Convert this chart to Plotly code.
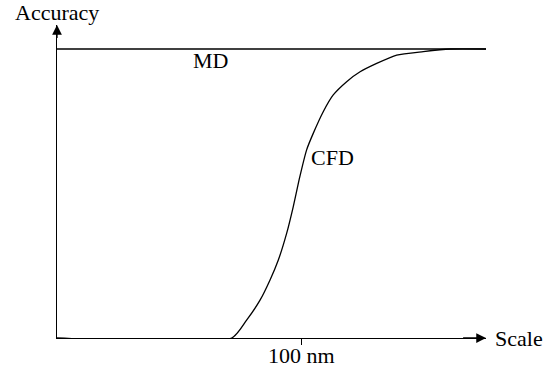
import plotly.graph_objects as go

# Data
md_x = [0, 175.8]
md_y = [1.0, 1.0]

cfd_x = [0, 71.6, 77.7, 83.2, 87.3, 90.7, 94.1, 96.8, 99.2, 102.3, 105.0, 109.1,
         113.2, 118.7, 124.2, 131.0, 139.2, 150.1, 161.1, 175.8]
cfd_y = [0, 0, 0.062, 0.131, 0.201, 0.270, 0.362, 0.454, 0.547, 0.651, 0.708, 0.783,
         0.841, 0.887, 0.921, 0.950, 0.979, 0.991, 1.0, 1.0]

tick_vals = [100]
tick_text = ["100 nm"]

x_max = 175.8
y_max = 1.083

FONT = "Liberation Serif, Times New Roman, serif"
FS = 22
fig = go.Figure()
fig.add_trace(go.Scatter(x=md_x, y=md_y, mode="lines",
                         line=dict(color="black", width=1.3), showlegend=False))
fig.add_trace(go.Scatter(x=cfd_x, y=cfd_y, mode="lines",
                         line=dict(color="black", width=1.3, shape="spline", smoothing=0.6),
                         showlegend=False))

# axis arrows
fig.add_annotation(x=x_max, y=0, ax=x_max - 10, ay=0, axref="x", ayref="y",
                   xref="x", yref="y", text="", showarrow=True, arrowhead=2,
                   arrowsize=1.5, arrowwidth=1.3, arrowcolor="black")
fig.add_annotation(x=0, y=y_max, ax=0, ay=y_max - 0.05, axref="x", ayref="y",
                   xref="x", yref="y", text="", showarrow=True, arrowhead=2,
                   arrowsize=1.5, arrowwidth=1.3, arrowcolor="black")

# tick labels
for tv, tt in zip(tick_vals, tick_text):
    fig.add_annotation(x=tv, y=0, xref="x", yref="y", text=tt, showarrow=False,
                       xanchor="center", yanchor="middle", yshift=-17,
                       font=dict(family=FONT, size=FS, color="black"))

# labels
fig.add_annotation(x=x_max, y=0, xref="x", yref="y", text="Scale", showarrow=False,
                   xanchor="left", yanchor="middle", xshift=7,
                   font=dict(family=FONT, size=FS, color="black"))
fig.add_annotation(x=0, y=1, xref="x", yref="paper", text="Accuracy", showarrow=False,
                   xanchor="center", yanchor="bottom", yshift=-2,
                   font=dict(family=FONT, size=FS, color="black"))
fig.add_annotation(x=63.1, y=0.961, xref="x", yref="y", text="MD", showarrow=False,
                   xanchor="center", yanchor="middle",
                   font=dict(family=FONT, size=FS, color="black"))
fig.add_annotation(x=103.3, y=0.626, xref="x", yref="y", text="CFD", showarrow=False,
                   xanchor="left", yanchor="middle",
                   font=dict(family=FONT, size=FS, color="black"))

fig.update_layout(
    width=543, height=371,
    margin=dict(l=57, r=57, t=25, b=33, autoexpand=False),
    paper_bgcolor="white", plot_bgcolor="white",
    xaxis=dict(range=[0, x_max], showgrid=False, zeroline=False, showline=True,
               linecolor="black", linewidth=1.3, ticks="outside", ticklen=6,
               tickwidth=1.3, tickcolor="black", tickvals=tick_vals,
               showticklabels=False, automargin=False, fixedrange=True),
    yaxis=dict(range=[0, y_max], showgrid=False, zeroline=False, showline=True,
               linecolor="black", linewidth=1.3, showticklabels=False, ticks="",
               automargin=False, fixedrange=True),
)

fig.write_html("out.html")
